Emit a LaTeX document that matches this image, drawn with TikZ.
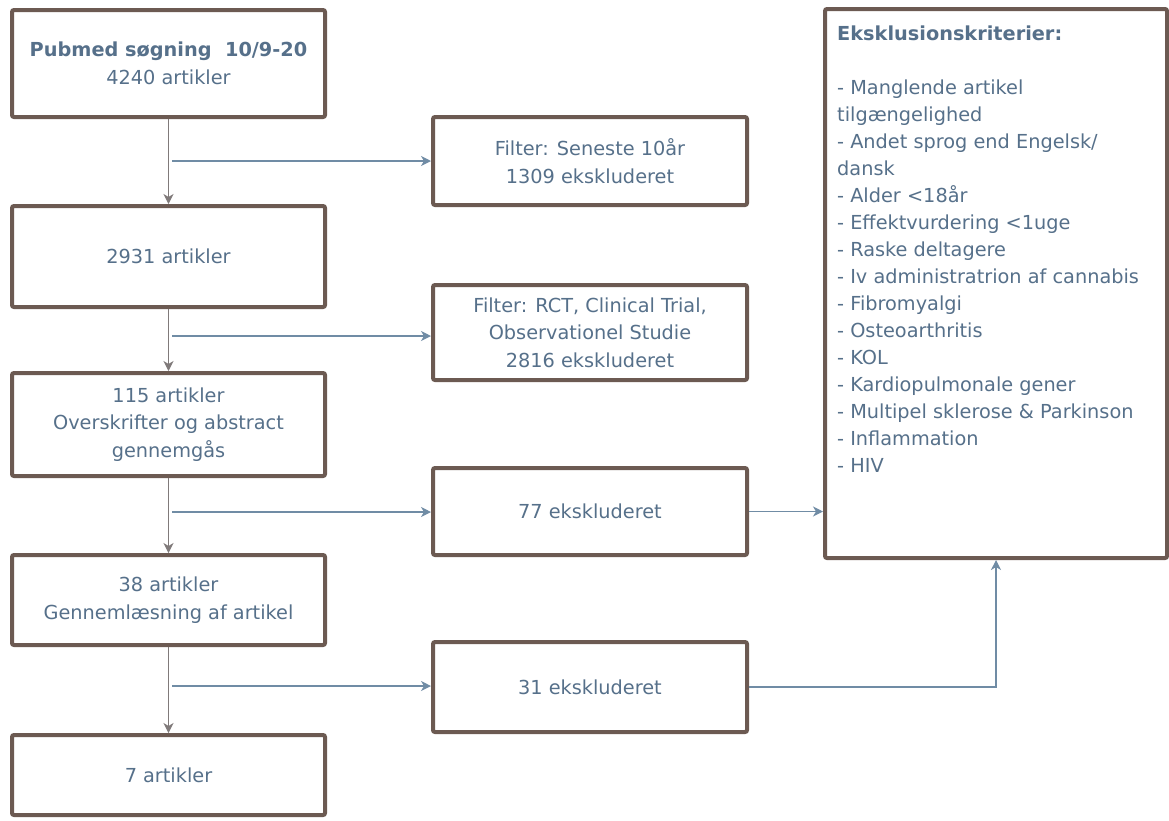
\documentclass[tikz,border=0pt]{standalone}
\usepackage{fontspec}
\usetikzlibrary{arrows.meta}
\newfontfamily\fs{DejaVu Sans}
\definecolor{boxc}{RGB}{108,90,82}
\definecolor{txt}{RGB}{86,112,138}
\definecolor{vgray}{RGB}{128,122,122}
\definecolor{hblue}{RGB}{112,140,165}
\tikzset{
  box/.style={draw=boxc, line width=4pt, rounded corners=2pt, fill=white, text=txt,
    font=\fs\fontsize{19.3}{27.5}\selectfont, align=center, inner sep=0pt},
  vline/.style={draw=vgray, line width=1.3pt, -{Stealth[length=10pt,width=10pt,inset=3pt]}},
  hline/.style={draw=hblue, line width=1.3pt, -{Stealth[length=10pt,width=10pt,inset=3pt]}},
}
\begin{document}
\begin{tikzpicture}[x=1pt,y=-1pt]
\useasboundingbox (0,0) rectangle (1169,820);
\node[box, minimum width=313pt, minimum height=107pt] (A) at (168.5,63.5)
  {{\bfseries Pubmed søgning\ \ 10/9-20}\\4240 artikler};
\node[box, minimum width=314pt, minimum height=88pt] (B) at (590,161)
  {Filter: Seneste 10år\\1309 ekskluderet};
\node[box, minimum width=313pt, minimum height=101pt] (C) at (168.5,256.5)
  {2931 artikler};
\node[box, minimum width=314pt, minimum height=95pt] (D) at (590,332.5)
  {Filter: RCT, Clinical Trial,\\Observationel Studie\\2816 ekskluderet};
\node[box, minimum width=313pt, minimum height=103pt] (E) at (168.5,424.5)
  {115 artikler\\Overskrifter og abstract\\gennemgås};
\node[box, minimum width=314pt, minimum height=87pt] (F) at (590,511.5)
  {77 ekskluderet};
\node[box, minimum width=313pt, minimum height=90pt] (G) at (168.5,600)
  {38 artikler\\Gennemlæsning af artikel};
\node[box, minimum width=314pt, minimum height=90pt] (H) at (590,687)
  {31 ekskluderet};
\node[box, minimum width=313pt, minimum height=80pt] (I) at (168.5,775)
  {7 artikler};
\node[box, minimum width=342pt, minimum height=549pt] (J) at (996,283.5) {};
\node[text=txt, font=\fs\fontsize{19.3}{27}\selectfont, align=left, inner sep=0pt,
  anchor=north west] (Jt) at (837,26)
  {{\bfseries Eksklusionskriterier:}\\[27pt]
   - Manglende artikel\\
   tilgængelighed\\
   - Andet sprog end Engelsk/\\
   dansk\\
   - Alder <18år\\
   - Effektvurdering <1uge\\
   - Raske deltagere\\
   - Iv administratrion af cannabis\\
   - Fibromyalgi\\
   - Osteoarthritis\\
   - KOL\\
   - Kardiopulmonale gener\\
   - Multipel sklerose \& Parkinson\\
   - Inflammation\\
   - HIV};
\draw[vline] (A) -- (C);
\draw[vline] (C) -- (E);
\draw[vline] (E) -- (G);
\draw[vline] (G) -- (I);
\coordinate (h1) at (172,161);
\coordinate (h2) at (172,336);
\coordinate (h3) at (172,512);
\coordinate (h4) at (172,686);
\draw[hline] (h1) -- (h1 -| B.west);
\draw[hline] (h2) -- (h2 -| D.west);
\draw[hline] (h3) -- (h3 -| F.west);
\draw[hline] (h4) -- (h4 -| H.west);
\draw[hline] (F.east) -- (F.east -| J.west);
\draw[hline] (H.east) -| (J.south);
\end{tikzpicture}
\end{document}
